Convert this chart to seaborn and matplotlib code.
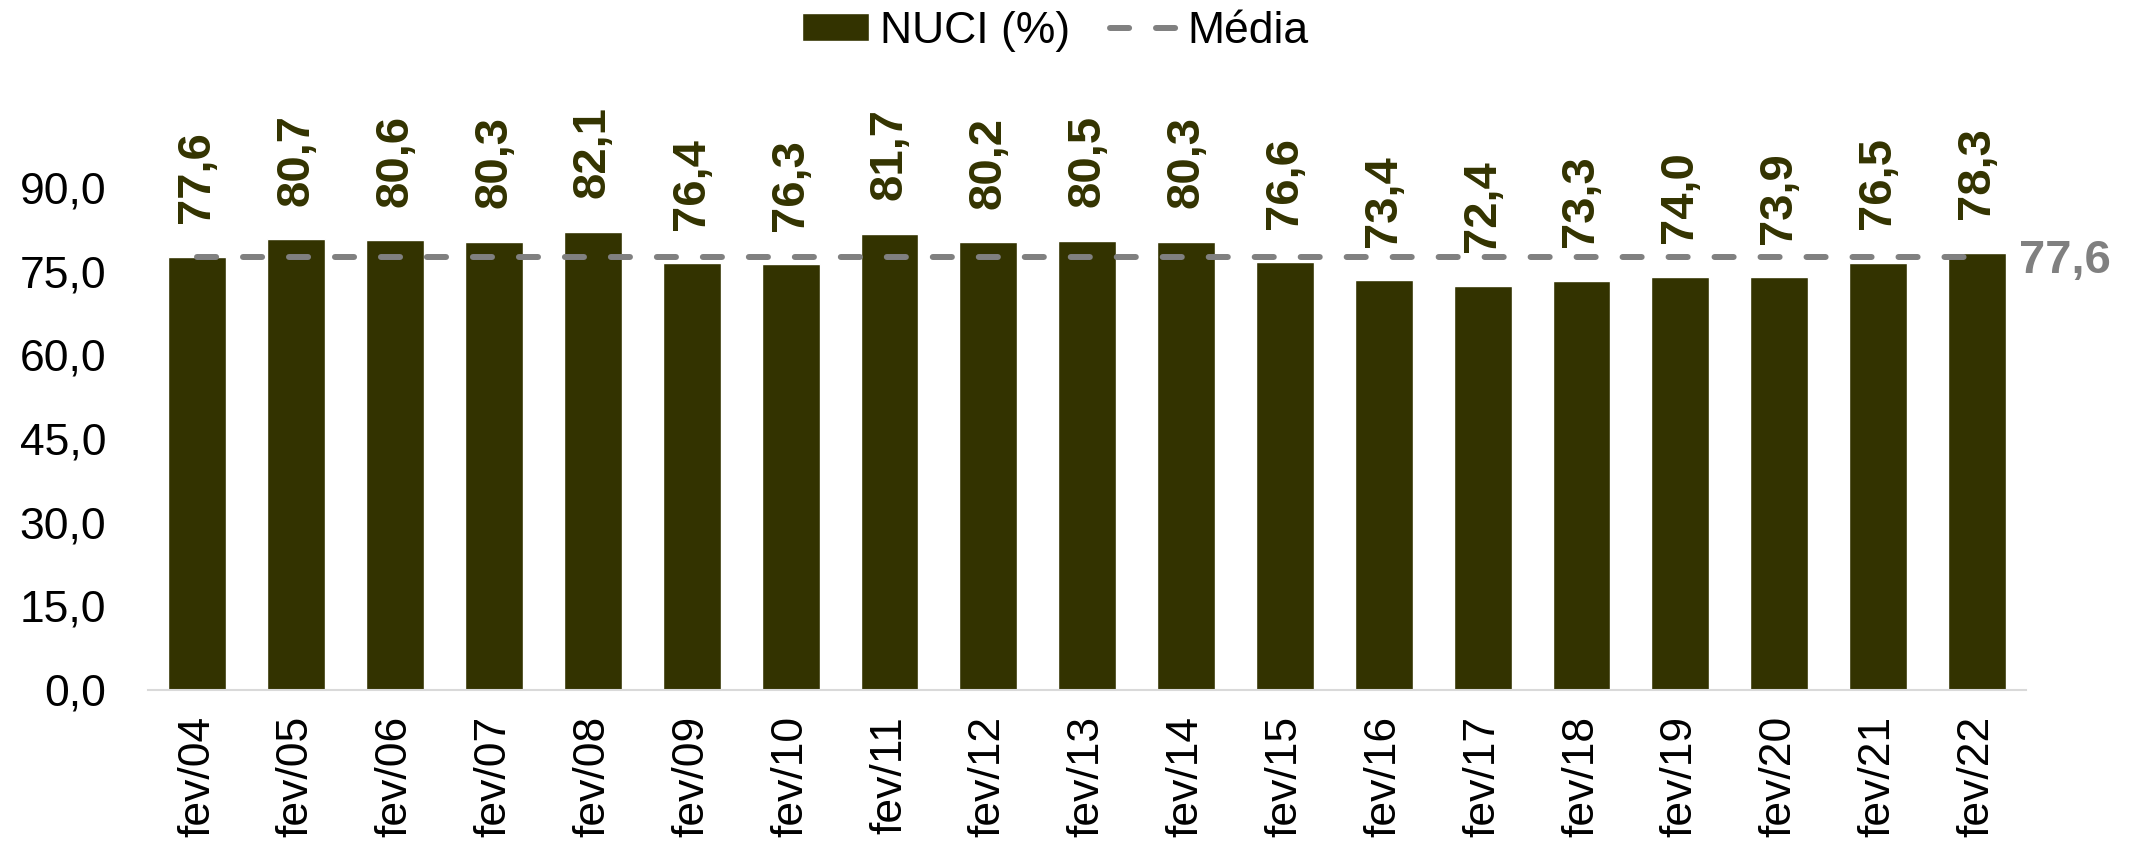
import matplotlib
matplotlib.use("Agg")
import matplotlib.pyplot as plt
import seaborn as sns
import pandas as pd
from matplotlib.patches import Patch
from matplotlib.lines import Line2D

# Dados: NUCI (%) em fevereiro de cada ano
meses = ["fev/04", "fev/05", "fev/06", "fev/07", "fev/08", "fev/09", "fev/10",
         "fev/11", "fev/12", "fev/13", "fev/14", "fev/15", "fev/16", "fev/17",
         "fev/18", "fev/19", "fev/20", "fev/21", "fev/22"]
nuci = [77.6, 80.7, 80.6, 80.3, 82.1, 76.4, 76.3, 81.7, 80.2, 80.5, 80.3,
        76.6, 73.4, 72.4, 73.3, 74.0, 73.9, 76.5, 78.3]
media = 77.6
yticks = [0, 15, 30, 45, 60, 75, 90]

bar_color = "#333300"
media_color = "#808080"

sns.set_style("white")
plt.rcParams["font.family"] = ["Liberation Sans", "DejaVu Sans"]
plt.rcParams["text.color"] = "black"
plt.rcParams["xtick.labelcolor"] = "black"
plt.rcParams["ytick.labelcolor"] = "black"

df = pd.DataFrame({"mes": meses, "nuci": nuci})

fig = plt.figure(figsize=(21.33, 8.5), dpi=100)
ax = fig.add_axes([0.0694, 0.1888, 0.8806, 0.689])

sns.barplot(data=df, x="mes", y="nuci", color=bar_color, width=0.586,
            saturation=1, ax=ax)

# linha da média
ax.plot([0, len(meses) - 1], [media, media], color=media_color, lw=4.3,
        dashes=(3.2, 4.5), dash_capstyle="round")
ax.annotate(f"{media:.1f}".replace(".", ","), (len(meses) - 1, media),
            xytext=(30, -12), textcoords="offset points", ha="left",
            va="baseline", fontsize=34, fontweight="bold", color=media_color,
            annotation_clip=False)

# rótulos das barras
for i, v in enumerate(nuci):
    ax.annotate(f"{v:.1f}".replace(".", ","), (i, v), xytext=(0, 24),
                textcoords="offset points", rotation=90, ha="center",
                va="bottom", fontsize=34, fontweight="bold", color=bar_color,
                annotation_clip=False)

ax.set_ylim(0, 105)
ax.set_xlim(-0.5, len(meses) - 0.5)
ax.set_yticks(yticks)
ax.set_yticklabels([f"{t:.1f}".replace(".", ",") for t in yticks], fontsize=32)
ax.set_xticks(range(len(meses)))
ax.set_xticklabels(meses, rotation=90, fontsize=32)
ax.set_xticks([i - 0.5 for i in range(len(meses) + 1)], minor=True)
ax.tick_params(axis="x", which="major", length=0, pad=19)
ax.tick_params(axis="x", which="minor", length=10, width=1.5, color="#d9d9d9")
ax.tick_params(axis="y", length=0, pad=30)
ax.set_xlabel("")
ax.set_ylabel("")

for s in ["top", "right", "left"]:
    ax.spines[s].set_visible(False)
ax.spines["bottom"].set_color("#d9d9d9")
ax.spines["bottom"].set_linewidth(1.5)

handles = [Patch(facecolor=bar_color, label="NUCI (%)"),
           Line2D([0], [0], color=media_color, lw=4.3, dashes=(3.2, 4.5),
                  dash_capstyle="round", label="Média")]
fig.legend(handles=handles, loc="center", bbox_to_anchor=(0.4948, 0.963),
           ncol=2, frameon=False, fontsize=32, handlelength=1.5,
           handleheight=0.6, handletextpad=0.25, columnspacing=0.9)

fig.savefig("out.png", dpi=100)
